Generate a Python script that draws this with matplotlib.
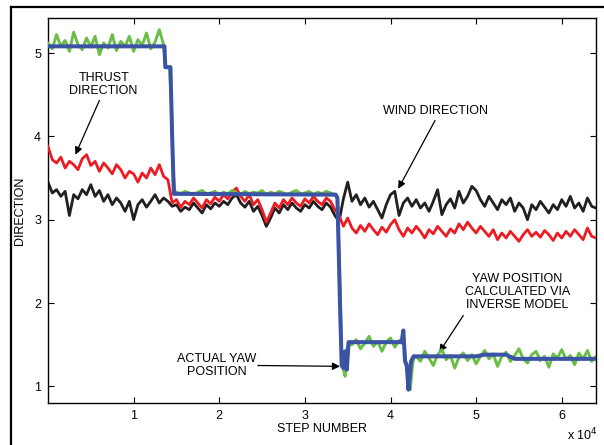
import numpy as np
import matplotlib
matplotlib.use("Agg")
import matplotlib.pyplot as plt
from matplotlib.lines import Line2D
from matplotlib.ticker import FuncFormatter

plt.rcParams['font.family'] = ['Liberation Sans', 'DejaVu Sans']
plt.rcParams['font.size'] = 9

step = 500
thrust_dir = [3.88, 3.72, 3.68, 3.75, 3.62, 3.70, 3.66, 3.60, 3.73, 3.78, 3.65, 3.70, 3.58, 3.68, 3.62,
              3.55, 3.66, 3.60, 3.50, 3.58, 3.55, 3.45, 3.56, 3.50, 3.62, 3.54, 3.66, 3.52, 3.48,
              3.20, 3.24, 3.15, 3.22, 3.18, 3.26, 3.20, 3.14, 3.24, 3.19, 3.27, 3.22, 3.30, 3.25, 3.33,
              3.38, 3.28, 3.22, 3.30, 3.18, 3.24, 3.12, 2.97, 3.08, 3.20, 3.14, 3.24, 3.18, 3.26, 3.20,
              3.16, 3.25, 3.20, 3.28, 3.22, 3.18, 3.26, 3.22, 3.12, 3.05,
              2.92, 3.02, 2.90, 2.84, 2.93, 2.86, 2.95, 2.88, 2.82, 2.91, 2.85, 2.94, 3.00, 2.88, 2.80,
              2.90, 2.84, 2.92, 2.86, 2.78, 2.88, 2.83, 2.92, 2.86, 2.80, 2.89, 2.84, 2.95, 2.88, 2.97,
              2.90, 2.84, 2.92, 2.86, 2.80, 2.88, 2.76, 2.84, 2.78, 2.86, 2.80, 2.74, 2.82, 2.88, 2.80,
              2.85, 2.79, 2.87, 2.82, 2.75, 2.84, 2.78, 2.86, 2.80, 2.88, 2.82, 2.76, 2.90, 2.80, 2.78]
wind_dir = [3.45, 3.32, 3.36, 3.28, 3.34, 3.05, 3.30, 3.25, 3.36, 3.30, 3.42, 3.28, 3.35, 3.22, 3.30,
            3.18, 3.26, 3.20, 3.10, 3.22, 3.00, 3.18, 3.24, 3.15, 3.22, 3.30, 3.20, 3.26, 3.22,
            3.16, 3.18, 3.10, 3.15, 3.12, 3.20, 3.14, 3.08, 3.18, 3.13, 3.20, 3.16, 3.22, 3.18, 3.26,
            3.30, 3.20, 3.15, 3.22, 3.10, 3.16, 3.05, 2.92, 3.02, 3.14, 3.08, 3.18, 3.12, 3.20, 3.14,
            3.10, 3.18, 3.14, 3.22, 3.16, 3.12, 3.20, 3.15, 3.05, 2.98,
            3.25, 3.45, 3.22, 3.30, 3.18, 3.26, 3.15, 3.22, 3.12, 3.02, 3.18, 3.30, 3.34, 3.05, 3.20,
            3.26, 3.16, 3.24, 3.14, 3.20, 3.10, 3.22, 3.36, 3.06, 3.18, 3.25, 3.14, 3.34, 3.20, 3.28,
            3.40, 3.35, 3.24, 3.16, 3.28, 3.20, 3.12, 3.24, 3.18, 3.26, 3.10, 3.20, 3.14, 3.00, 3.18,
            3.12, 3.22, 3.15, 3.08, 3.18, 3.12, 3.24, 3.16, 3.28, 3.14, 3.20, 3.10, 3.26, 3.16, 3.14]

# actual yaw position: noisy plateaus (every 500 steps) plus the transitions
yaw_a_start, yaw_a = 0, [5.12, 5.05, 5.22, 5.08, 5.15, 5.02, 5.25, 5.10, 5.04, 5.18, 5.07, 5.20, 4.98, 5.12,
                         5.06, 5.22, 5.03, 5.14, 5.08, 5.20, 5.02, 5.16, 5.09, 5.24, 5.05, 5.13, 5.28, 5.10]
yaw_ab_x = [13700, 14000, 14200, 14400, 14600, 14800]
yaw_ab = [4.86, 4.82, 4.84, 4.40, 3.60, 3.34]
yaw_b_start, yaw_b = 15000, [3.33, 3.31, 3.34, 3.32, 3.30, 3.33, 3.35, 3.31, 3.32, 3.34, 3.30, 3.33, 3.31,
                             3.35, 3.32, 3.30, 3.34, 3.31, 3.33, 3.32, 3.35, 3.30, 3.33, 3.31, 3.34, 3.32,
                             3.30, 3.33, 3.35, 3.31, 3.32, 3.34, 3.30, 3.33, 3.31, 3.34, 3.32, 3.30]
yaw_bc_x = [33800, 34100, 34300, 34500, 34700, 34900, 35200]
yaw_bc = [3.28, 2.20, 1.30, 1.20, 1.12, 1.45, 1.50]
yaw_c_start, yaw_c = 35500, [1.50, 1.56, 1.45, 1.52, 1.60, 1.48, 1.54, 1.42, 1.53, 1.58, 1.47, 1.55]
yaw_cd_x = [41300, 41500, 41700, 41900, 42100, 42300, 42600, 42800]
yaw_cd = [1.52, 1.62, 1.35, 1.22, 1.00, 0.96, 1.28, 1.36]
yaw_d_start, yaw_d = 43000, [1.36, 1.30, 1.42, 1.34, 1.25, 1.38, 1.44, 1.32, 1.37, 1.22, 1.35, 1.40, 1.31,
                             1.38, 1.27, 1.36, 1.43, 1.33, 1.39, 1.24, 1.36, 1.41, 1.30, 1.37, 1.45, 1.33,
                             1.28, 1.38, 1.42, 1.31, 1.36, 1.23, 1.39, 1.34, 1.44, 1.32, 1.37, 1.26, 1.40,
                             1.33, 1.43, 1.30, 1.36]

# yaw position from the inverse model
model_x = [0, 13600, 13700, 14300, 14500, 14700, 15000, 33600, 33800, 34100, 34300, 34500, 34700,
           34900, 35100, 41300, 41500, 41700, 41900, 42100, 42400, 42700, 50000, 51000, 53500, 54500, 64000]
model_y = [5.08, 5.08, 4.83, 4.83, 4.00, 3.31, 3.31, 3.30, 3.26, 2.00, 1.25, 1.22, 1.42, 1.20, 1.53,
           1.53, 1.67, 1.30, 1.25, 0.96, 1.30, 1.36, 1.36, 1.38, 1.38, 1.33, 1.33]


def seg(start, vals):
    return list(start + step * np.arange(len(vals)))


yaw_x = (seg(yaw_a_start, yaw_a) + yaw_ab_x + seg(yaw_b_start, yaw_b) + yaw_bc_x
         + seg(yaw_c_start, yaw_c) + yaw_cd_x + seg(yaw_d_start, yaw_d))
yaw_y = yaw_a + yaw_ab + yaw_b + yaw_bc + yaw_c + yaw_cd + yaw_d

fig = plt.figure(figsize=(6.04, 4.45), dpi=100)
ax = fig.add_axes([48 / 604, 1 - 403 / 445, 548 / 604, 385 / 445])

ax.plot(step * np.arange(len(wind_dir)), wind_dir, color='#231f20', lw=2.0, zorder=2)
ax.plot(step * np.arange(len(thrust_dir)), thrust_dir, color='#ed1c24', lw=2.0, zorder=3)
ax.plot(yaw_x, yaw_y, color='#6abd45', lw=2.1, zorder=4)
ax.plot(model_x, model_y, color='#3a53a4', lw=2.9, zorder=5)

ax.set_xlim(0, 64000)
ax.set_ylim(0.8, 5.42)
ax.set_xticks([10000, 20000, 30000, 40000, 50000, 60000])
ax.set_yticks([1, 2, 3, 4, 5])
ax.xaxis.set_major_formatter(FuncFormatter(lambda v, p: '%d' % round(v / 1e4)))
ax.tick_params(direction='in', length=4, width=0.8, top=True, right=True, labelsize=9, pad=5)
for s in ax.spines.values():
    s.set_linewidth(1.0)
ax.set_xlabel('STEP NUMBER', fontsize=9, labelpad=1)
ax.set_ylabel('DIRECTION', fontsize=9, labelpad=6)
fig.text(598 / 604, 1 - 435 / 445, r'x 10$^4$', ha='right', va='center', fontsize=9)

arrow = dict(arrowstyle='-|>', color='k', lw=0.9, mutation_scale=11, shrinkA=0, shrinkB=0)
ax.text(6500, 4.62, 'THRUST\nDIRECTION', ha='center', va='center', linespacing=1.1)
ax.annotate('', xy=(3200, 3.78), xytext=(6000, 4.43), arrowprops=arrow)
ax.text(45300, 4.31, 'WIND DIRECTION', ha='center', va='center')
ax.annotate('', xy=(40900, 3.37), xytext=(45200, 4.19), arrowprops=arrow)
ax.text(19700, 1.25, 'ACTUAL YAW\nPOSITION', ha='center', va='center', linespacing=1.1)
ax.annotate('', xy=(34100, 1.24), xytext=(24500, 1.25), arrowprops=arrow)
ax.text(54800, 2.13, 'YAW POSITION\nCALCULATED VIA\nINVERSE MODEL', ha='center', va='center',
        linespacing=1.1)
ax.annotate('', xy=(45700, 1.41), xytext=(48500, 1.85), arrowprops=arrow)

# outer frame, cut off at the right and bottom edges
fig.add_artist(Line2D([11 / 604, 11 / 604], [0, 1 - 7 / 445], transform=fig.transFigure, color='k', lw=1.6))
fig.add_artist(Line2D([11 / 604, 1], [1 - 7 / 445, 1 - 7 / 445], transform=fig.transFigure, color='k', lw=1.6))

fig.savefig('out.png', dpi=100)
